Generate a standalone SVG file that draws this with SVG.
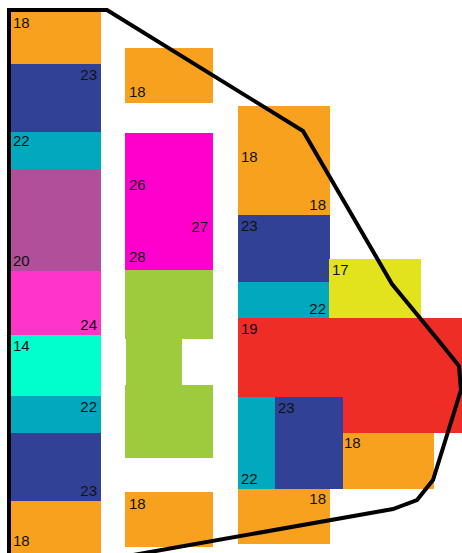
<svg xmlns="http://www.w3.org/2000/svg" width="462" height="553" viewBox="0 0 462 553">
<style>
text{font-family:"Liberation Sans","Open Sans",Arial,sans-serif;font-size:15px;fill:#111}
.r{text-anchor:end}
.or{fill:#F8A11E}.bl{fill:#314296}.te{fill:#00A9BD}.pu{fill:#B14F9B}.pk{fill:#FF34C8}
.aq{fill:#00FFCC}.mg{fill:#FF00CC}.gr{fill:#9DCB3D}.ye{fill:#E3E31D}.rd{fill:#EE2D27}
</style>
<rect width="462" height="553" fill="#fff"/>
<g id="left">
<g id="L1"><rect class="or" x="11" y="10" width="90" height="54"/><text x="13" y="28">18</text></g>
<g id="L2"><rect class="bl" x="11" y="64" width="90" height="68"/><text class="r" x="97" y="80">23</text></g>
<g id="L3"><rect class="te" x="11" y="132" width="90" height="37"/><text x="13" y="146">22</text></g>
<g id="L4"><rect class="pu" x="11" y="169" width="90" height="102"/><text x="13" y="266">20</text></g>
<g id="L5"><rect class="pk" x="11" y="271" width="90" height="64"/><text class="r" x="97" y="330">24</text></g>
<g id="L6"><rect class="aq" x="11" y="335" width="90" height="61"/><text x="13" y="351">14</text></g>
<g id="L7"><rect class="te" x="11" y="396" width="90" height="37"/><text class="r" x="97" y="412">22</text></g>
<g id="L8"><rect class="bl" x="11" y="433" width="90" height="68"/><text class="r" x="97" y="496">23</text></g>
<g id="L9"><rect class="or" x="11" y="501" width="90" height="52"/><text x="13" y="546">18</text></g>
</g>
<g id="middle">
<g id="M1"><rect class="or" x="125" y="48" width="88" height="55"/><text x="129" y="97">18</text></g>
<g id="M2"><rect class="mg" x="125" y="133" width="88" height="137"/><text x="129" y="190">26</text><text class="r" x="208" y="232">27</text><text x="129" y="262">28</text></g>
<g id="M3"><rect class="gr" x="125" y="270" width="88" height="69"/><rect class="gr" x="126" y="339" width="56" height="46"/><rect class="gr" x="125" y="385" width="88" height="73"/></g>
<g id="M4"><rect class="or" x="125" y="492" width="88" height="55"/><text x="129" y="509">18</text></g>
</g>
<g id="right">
<g id="R1"><rect class="or" x="238" y="106" width="92" height="109"/><text x="241" y="162">18</text><text class="r" x="326" y="210">18</text></g>
<g id="R2"><rect class="bl" x="238" y="215" width="92" height="67"/><text x="241" y="231">23</text></g>
<g id="R3"><rect class="te" x="238" y="282" width="92" height="36"/><text class="r" x="326" y="314">22</text></g>
<g id="R4"><rect class="ye" x="329" y="259" width="92" height="59"/><text x="332" y="275">17</text></g>
<g id="R5"><rect class="rd" x="238" y="318" width="224" height="115"/><text x="241" y="334">19</text></g>
<g id="R6"><rect class="te" x="238" y="397" width="37" height="92"/><text x="241" y="484">22</text></g>
<g id="R7"><rect class="bl" x="275" y="397" width="68" height="92"/><text x="278" y="413">23</text></g>
<g id="R8"><rect class="or" x="343" y="433" width="91" height="56"/><text x="344" y="448">18</text></g>
<g id="R9"><rect class="or" x="238" y="489" width="92" height="55"/><text class="r" x="326" y="504">18</text></g>
</g>
<g id="connectors">
<polygon points="9,10 107,10 303,131 392,284 443,346 459,366 461,390 433,480 417,500 393,509 9,577" fill="none" stroke="#000" stroke-width="4" stroke-linejoin="miter"/>
</g>
</svg>
